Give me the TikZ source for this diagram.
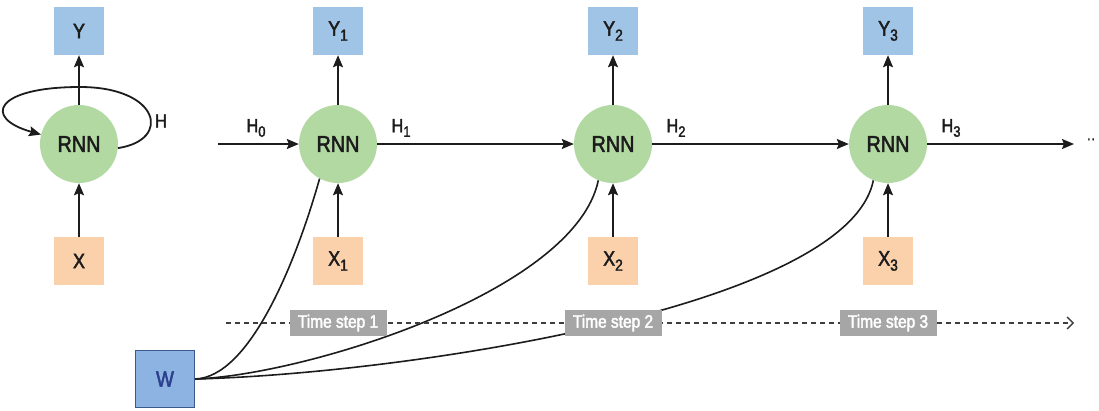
\documentclass[tikz,border=0pt]{standalone}
\usepackage{fontspec}
\setmainfont{Liberation Sans}[FakeStretch=0.86, FakeBold=2.2]
\usetikzlibrary{arrows.meta}

\definecolor{rnngreen}{HTML}{B3D9A3}
\definecolor{ybox}{HTML}{9FC4E6}
\definecolor{xbox}{HTML}{FBD1AC}
\definecolor{wfill}{HTML}{8DB3E2}
\definecolor{wline}{HTML}{3A5A8E}
\definecolor{wtext}{HTML}{2C3F8C}
\definecolor{tsgray}{HTML}{A6A6A6}
\definecolor{ink}{HTML}{1C1C1C}

% lowered index for Y_t, X_t, H_t labels
\newcommand\lowidx[2][16]{\raisebox{-0.45ex}{\fontsize{#1}{#1}\selectfont #2}}

\tikzset{
  rnn/.style={circle, fill=rnngreen, minimum size=78pt, inner sep=0pt,
    text=ink, font=\fontsize{23}{23}\selectfont},
  cellbox/.style={minimum width=50pt, minimum height=48pt, inner sep=0pt,
    text=ink, font=\fontsize{21}{21}\selectfont},
  outbox/.style={cellbox, fill=ybox},
  inbox/.style={cellbox, fill=xbox},
  wbox/.style={fill=wfill, draw=wline, line width=1.5pt, minimum width=59pt,
    minimum height=57pt, inner sep=0pt, text=wtext, font=\fontsize{22}{22}\selectfont},
  hlabel/.style={text=ink, inner sep=0pt, font=\fontsize{19}{19}\selectfont},
  tslabel/.style={fill=tsgray, text=white, minimum width=97pt, minimum height=26pt,
    inner sep=0pt, font=\fontsize{18}{18}\selectfont},
  flow/.style={line width=1.8pt, draw=ink,
    -{Stealth[length=12pt,width=10pt,inset=2pt]}},
  wlink/.style={line width=1.6pt, draw=ink},
  timeline/.style={line width=1.3pt, draw=ink!85, dash pattern=on 5pt off 4pt,
    -{Straight Barb[length=6pt,width=12pt,line width=1.3pt]}},
}

\begin{document}
\begin{tikzpicture}[x=1pt, y=-1pt]
  \useasboundingbox (0,0) rectangle (1099,410);

  % folded cell
  \node[rnn]    (R0) at (79,144) {RNN};
  \node[outbox] (Y0) at (79,31)  {Y};
  \node[inbox]  (X0) at (79,261) {X};
  \draw[flow] (R0) -- (Y0);
  \draw[flow] (X0) -- (R0);
  \draw[flow] (R0.-6) .. controls (172,140) and (160,87) .. (80,87)
              .. controls (-5,87) and (-18,118) .. (R0.166);
  \node[hlabel] (H) at (161,121) {H};

  % unrolled cells
  \foreach \i/\x in {1/338, 2/613, 3/888} {
    \node[rnn]    (R\i) at (\x,144) {RNN};
    \node[outbox] (Y\i) at (\x,31)  {Y\lowidx{\i}};
    \node[inbox]  (X\i) at (\x,261) {X\lowidx{\i}};
    \draw[flow] (R\i) -- (Y\i);
    \draw[flow] (X\i) -- (R\i);
  }

  % hidden state chain
  \coordinate (hin)  at (218,144);
  \coordinate (hout) at (1074,144);
  \draw[flow] (hin) -- (R1);
  \draw[flow] (R1) -- (R2);
  \draw[flow] (R2) -- (R3);
  \draw[flow] (R3) -- (hout);
  \node[text=ink, inner sep=0pt, font=\fontsize{15}{15}\selectfont] (more) at (1091,141) {··};

  \node[hlabel] (H0) at (256,128) {H\lowidx[15]{0}};
  \node[hlabel] (H1) at (401,128) {H\lowidx[15]{1}};
  \node[hlabel] (H2) at (676,128) {H\lowidx[15]{2}};
  \node[hlabel] (H3) at (951,128) {H\lowidx[15]{3}};

  % shared weights
  \node[wbox] (W) at (165,379) {W};
  \draw[wlink] (W.east) .. controls (250,377) and (296,262) .. (R1.-118);
  \draw[wlink] (W.east) .. controls (305,375) and (575,292) .. (R2.-112);
  \draw[wlink] (W.east) .. controls (400,374) and (848,308) .. (R3.-112);

  % time axis
  \coordinate (tstart) at (226,323);
  \coordinate (tend)   at (1074,323);
  \draw[timeline] (tstart) -- (tend);
  \node[tslabel] (T1) at (338,323) {Time step 1};
  \node[tslabel] (T2) at (613,323) {Time step 2};
  \node[tslabel] (T3) at (888,323) {Time step 3};
\end{tikzpicture}
\end{document}
